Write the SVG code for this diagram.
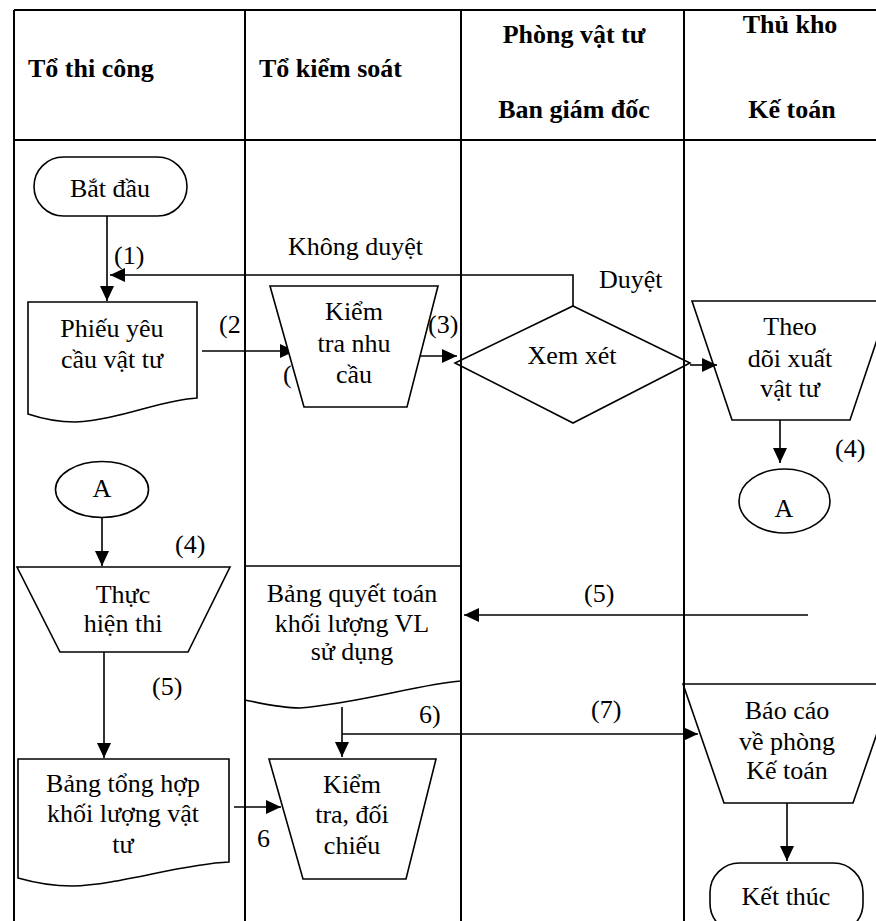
<svg xmlns="http://www.w3.org/2000/svg" width="876" height="921" viewBox="0 0 876 921" font-family="'Liberation Serif', 'Times New Roman', 'DejaVu Serif', serif" font-size="26">
<defs>
<marker id="ah" viewBox="0 0 15 14" refX="15" refY="7" markerWidth="15" markerHeight="14" markerUnits="userSpaceOnUse" orient="auto">
<path d="M0,0 L15,7 L0,14 Z" fill="#000"/>
</marker>
<style>
text{font-family:'Liberation Serif','Times New Roman','DejaVu Serif',serif;font-size:26px;fill:#000}
.h{font-weight:bold}
.m{text-anchor:middle}
.grid{stroke:#000;stroke-width:2;fill:none}
.sh{stroke:#000;stroke-width:1.6;fill:none}
.wf{fill:#fff}
.cn{stroke:#000;stroke-width:1.6;fill:none;marker-end:url(#ah)}
</style>
</defs>
<rect width="876" height="921" fill="#fff"/>
<g id="table">
<path class="grid" d="M14,10 H876 M14,140 H876 M14,10 V921 M245,10 V921 M461,10 V921 M684,10 V921"/>
<text class="h" x="28" y="77">Tổ thi công</text>
<text class="h" x="259" y="77">Tổ kiểm soát</text>
<text class="h m" x="574" y="43">Phòng vật tư</text>
<text class="h m" x="574" y="118">Ban giám đốc</text>
<text class="h m" x="790" y="33">Thủ kho</text>
<text class="h m" x="792" y="118">Kế toán</text>
</g>
<g id="connectors">
<path class="cn" d="M107,216 V301"/>
<path class="cn" d="M573,306 V275 H110"/>
<path class="cn" d="M202,351 H295"/>
<path class="cn" d="M418,356 H457"/>
<path class="cn" d="M690,365 H717"/>
<path class="cn" d="M780,420 V463"/>
<path class="cn" d="M102,517 V566"/>
<path class="cn" d="M104,652 V758"/>
<path class="cn" d="M808,615 H464"/>
<path class="cn" d="M342,707 V757"/>
<path class="cn" d="M342,734 H698"/>
<path class="cn" d="M234,807 H281"/>
<path class="cn" d="M787,803 V861"/>
<text x="114" y="264">(1)</text>
<text x="288" y="255">Không duyệt</text>
<text x="599" y="288">Duyệt</text>
<text x="219" y="333">(2</text>
<text x="283" y="383">(</text>
<text x="428" y="333">(3)</text>
<text x="835" y="457">(4)</text>
<text x="175" y="553">(4)</text>
<text x="152" y="695">(5)</text>
<text x="584" y="602">(5)</text>
<text x="591" y="718">(7)</text>
<text x="419" y="723">6)</text>
<text x="257" y="847">6</text>
</g>
<g id="start">
<rect class="sh" x="34" y="157" width="153" height="59" rx="29.5"/>
<text class="m" x="110" y="197">Bắt đầu</text>
</g>
<g id="phieu">
<path class="sh" d="M28,414 V302 H197 V398 C160,400 120,420 75,422 C55,422 40,418 28,414 Z"/>
<text class="m" x="112" y="337">Phiếu yêu</text>
<text class="m" x="112" y="368">cầu vật tư</text>
</g>
<g id="kiem-tra-nhu-cau">
<path class="sh wf" d="M270,286 H438 L407,407 H304 Z"/>
<text class="m" x="354" y="320">Kiểm</text>
<text class="m" x="354" y="352">tra nhu</text>
<text class="m" x="354" y="383">cầu</text>
</g>
<g id="xem-xet">
<path class="sh" d="M573,306 L690,363 L573,423 L455,363 Z"/>
<text class="m" x="572" y="364">Xem xét</text>
</g>
<g id="theo-doi">
<path class="sh" d="M692,301 H890 L850,420 H732 Z"/>
<text class="m" x="790" y="335">Theo</text>
<text class="m" x="790" y="367">dõi xuất</text>
<text class="m" x="790" y="397">vật tư</text>
</g>
<g id="a-right">
<ellipse class="sh" cx="784.5" cy="501" rx="45.5" ry="32"/>
<text class="m" x="784" y="517">A</text>
</g>
<g id="a-left">
<ellipse class="sh" cx="102" cy="489.5" rx="46.5" ry="28"/>
<text class="m" x="102" y="497">A</text>
</g>
<g id="thuc-hien">
<path class="sh" d="M17,567 H230 L188,652 H60 Z"/>
<text class="m" x="123" y="603">Thực</text>
<text class="m" x="123" y="632">hiện thi</text>
</g>
<g id="bang-quyet-toan">
<path class="sh" d="M245,700 V566 H461 V681 C420,684 360,703 300,708 C280,708 260,703 245,700 Z"/>
<text class="m" x="352" y="602">Bảng quyết toán</text>
<text class="m" x="352" y="632">khối lượng VL</text>
<text class="m" x="352" y="660">sử dụng</text>
</g>
<g id="bang-tong-hop">
<path class="sh" d="M18,878 V759 H229 V862 C180,864 120,885 72,886 C50,886 32,882 18,878 Z"/>
<text class="m" x="123" y="792">Bảng tổng hợp</text>
<text class="m" x="123" y="822">khối lượng vật</text>
<text class="m" x="123" y="853">tư</text>
</g>
<g id="kiem-tra-doi-chieu">
<path class="sh" d="M269,759 H436 L406,879 H303 Z"/>
<text class="m" x="352" y="793">Kiểm</text>
<text class="m" x="352" y="823">tra, đối</text>
<text class="m" x="352" y="854">chiếu</text>
</g>
<g id="bao-cao">
<path class="sh" d="M683,684 H894 L853,803 H724 Z"/>
<text class="m" x="787" y="719">Báo cáo</text>
<text class="m" x="787" y="750">về phòng</text>
<text class="m" x="787" y="779">Kế toán</text>
</g>
<g id="end">
<rect class="sh" x="710" y="863" width="153" height="70" rx="29.5"/>
<text class="m" x="786" y="905">Kết thúc</text>
</g>
</svg>
